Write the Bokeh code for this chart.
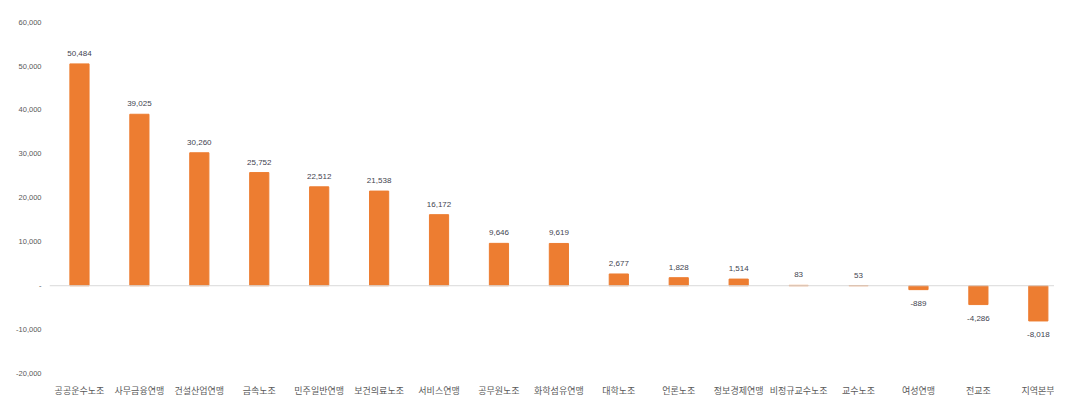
from bokeh.plotting import figure
from bokeh.models import ColumnDataSource, FixedTicker, NumeralTickFormatter, Span, Range1d
from bokeh.core.properties import value
from bokeh.embed import file_html
from bokeh.resources import INLINE

categories = ["공공운수노조", "사무금융연맹", "건설산업연맹", "금속노조", "민주일반연맹",
              "보건의료노조", "서비스연맹", "공무원노조", "화학섬유연맹", "대학노조",
              "언론노조", "정보경제연맹", "비정규교수노조", "교수노조", "여성연맹",
              "전교조", "지역본부"]
values = [50484, 39025, 30260, 25752, 22512, 21538, 16172, 9646, 9619, 2677,
          1828, 1514, 83, 53, -889, -4286, -8018]
y_ticks = [-20000, -10000, 0, 10000, 20000, 30000, 40000, 50000, 60000]

idx = list(range(len(categories)))
labels = [f"{v:,}" for v in values]
pos = [i for i, v in zip(idx, values) if v >= 0]
neg = [i for i, v in zip(idx, values) if v < 0]

src = ColumnDataSource(dict(x=idx, top=values, label=labels))
src_pos = ColumnDataSource(dict(x=pos, y=[values[i] for i in pos], label=[labels[i] for i in pos]))
src_neg = ColumnDataSource(dict(x=neg, y=[values[i] for i in neg], label=[labels[i] for i in neg]))

p = figure(width=1054, height=399, output_backend="svg", toolbar_location=None,
           x_range=Range1d(-0.5, 16.27), y_range=Range1d(-21567, 64913),
           min_border_left=49, min_border_right=0, min_border_top=0, min_border_bottom=0)
p.outline_line_color = None
p.xgrid.visible = False
p.ygrid.visible = False
p.background_fill_color = "white"

p.vbar(x="x", top="top", bottom=0, width=0.32, source=src, color="#ED7D31")

zero = Span(location=0, dimension="width", line_color="#D9D9D9", line_width=1)
p.add_layout(zero)

p.text(x="x", y="y", text="label", source=src_pos, text_align="center", text_baseline="bottom",
       y_offset=-8, text_font=value("Liberation Sans"), text_font_size="8px", text_color="#3F4450")
p.text(x="x", y="y", text="label", source=src_neg, text_align="center", text_baseline="top",
       y_offset=11, text_font=value("Liberation Sans"), text_font_size="8px", text_color="#3F4450")

p.xaxis.ticker = FixedTicker(ticks=idx)
p.xaxis.major_label_overrides = {i: c for i, c in zip(idx, categories)}
p.xaxis.major_label_text_font = "Noto Sans CJK KR"
p.xaxis.major_label_text_font_size = "9px"
p.xaxis.major_label_text_color = "#595959"
p.xaxis.major_label_standoff = 3
p.xaxis.major_tick_out = 0
p.xaxis.major_tick_in = 0
p.xaxis.axis_line_color = None
p.xaxis.major_tick_line_color = None
p.xaxis.minor_tick_line_color = None

p.yaxis.ticker = FixedTicker(ticks=y_ticks)
p.yaxis.formatter = NumeralTickFormatter(format="0,0")
p.yaxis.major_label_overrides = {0: "-"}
p.yaxis.major_label_text_font = "Liberation Sans"
p.yaxis.major_label_text_font_size = "7.5px"
p.yaxis.major_label_text_color = "#595959"
p.yaxis.major_label_standoff = 8
p.yaxis.major_tick_out = 0
p.yaxis.major_tick_in = 0
p.yaxis.axis_line_color = None
p.yaxis.major_tick_line_color = None
p.yaxis.minor_tick_line_color = None

open("out.html", "w").write(file_html(p, INLINE))
